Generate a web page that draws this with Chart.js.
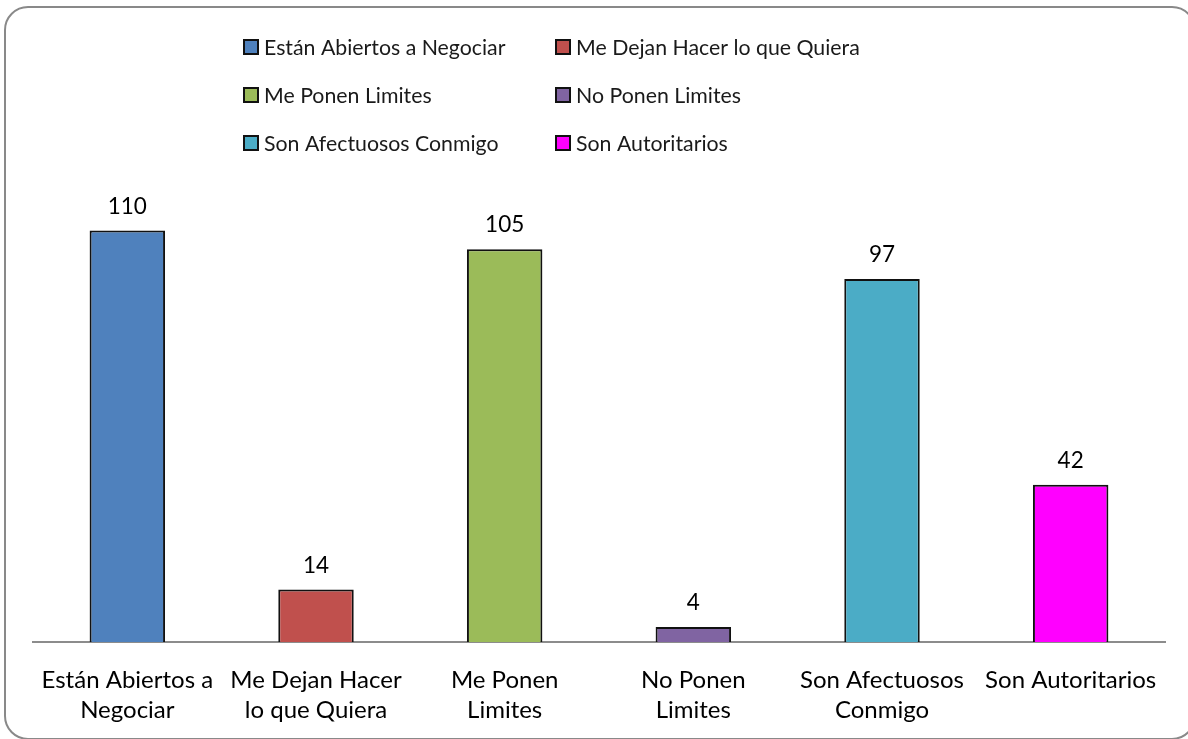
<!DOCTYPE html>
<html>
<head>
<meta charset="utf-8">
<script src="https://cdn.jsdelivr.net/npm/chart.js@4.4.1/dist/chart.umd.min.js"></script>
<style>
  html, body { margin: 0; padding: 0; background: #fff; overflow: hidden; }
  #frame {
    position: absolute; left: 4px; top: 6px; width: 1192px; height: 734px;
    border: 2px solid #898989; border-radius: 24px; box-sizing: border-box;
  }
  #wrap { position: absolute; left: 0; top: 0; width: 1188px; height: 739px; }
</style>
</head>
<body>
<div id="frame"></div>
<div id="wrap"><canvas id="grafico"></canvas></div>
<script>
// categorias y valores
const categorias = [
  "Están Abiertos a Negociar",
  "Me Dejan Hacer lo que Quiera",
  "Me Ponen Limites",
  "No Ponen Limites",
  "Son Afectuosos Conmigo",
  "Son Autoritarios"
];
const etiquetasEje = [
  ["Están Abiertos a", "Negociar"],
  ["Me Dejan Hacer", "lo que Quiera"],
  ["Me Ponen", "Limites"],
  ["No Ponen", "Limites"],
  ["Son Afectuosos", "Conmigo"],
  ["Son Autoritarios"]
];
const valores = [110, 14, 105, 4, 97, 42];
const colores = ["#4F81BD", "#C0504D", "#9BBB59", "#8064A2", "#4BACC6", "#FF00FF"];

const FUENTE = "Lato, 'Open Sans', sans-serif";
const TAM = 21.3;

// leyenda en dos columnas
const leyendaPlugin = {
  id: "leyenda",
  afterDraw(chart) {
    const ctx = chart.ctx;
    const colX = [244, 556];
    const filaY = [47, 95, 143];
    ctx.save();
    ctx.font = TAM + "px " + FUENTE;
    ctx.textBaseline = "middle";
    ctx.textAlign = "left";
    categorias.forEach((nombre, i) => {
      const x = colX[i % 2];
      const y = filaY[Math.floor(i / 2)];
      ctx.fillStyle = colores[i];
      ctx.fillRect(x, y - 7, 14, 14);
      ctx.lineWidth = 2;
      ctx.strokeStyle = "#111";
      ctx.strokeRect(x, y - 7, 14, 14);
      ctx.fillStyle = "#1a1a1a";
      ctx.fillText(nombre, x + 20, y + 1);
    });
    ctx.restore();
  }
};

// valores encima de cada barra
const valoresPlugin = {
  id: "valores",
  afterDatasetsDraw(chart) {
    const ctx = chart.ctx;
    const meta = chart.getDatasetMeta(0);
    ctx.save();
    ctx.font = "22.5px " + FUENTE;
    ctx.fillStyle = "#000";
    ctx.textAlign = "center";
    ctx.textBaseline = "middle";
    meta.data.forEach((barra, i) => {
      ctx.fillText(valores[i], barra.x, barra.y - 24);
    });
    ctx.restore();
  }
};

const ctx = document.getElementById("grafico").getContext("2d");
new Chart(ctx, {
  type: "bar",
  data: {
    labels: etiquetasEje,
    datasets: [{
      data: valores,
      backgroundColor: colores,
      borderColor: "#111",
      borderWidth: 2,
      categoryPercentage: 1,
      barPercentage: 0.4
    }]
  },
  options: {
    responsive: true,
    maintainAspectRatio: false,
    animation: false,
    layout: { padding: { top: 193, left: 33, right: 23, bottom: 0 } },
    plugins: {
      legend: { display: false },
      tooltip: { enabled: false }
    },
    scales: {
      y: { display: false, min: 0, max: 120 },
      x: {
        grid: { display: false, drawTicks: false },
        border: { display: true, color: "#8c8c8c", width: 2 },
        ticks: {
          color: "#000",
          font: { family: FUENTE, size: 24, lineHeight: 1.25 },
          padding: 23,
          autoSkip: false,
          maxRotation: 0,
          minRotation: 0
        },
        afterFit(scale) { scale.height = 97; }
      }
    }
  },
  plugins: [leyendaPlugin, valoresPlugin]
});
</script>
</body>
</html>
